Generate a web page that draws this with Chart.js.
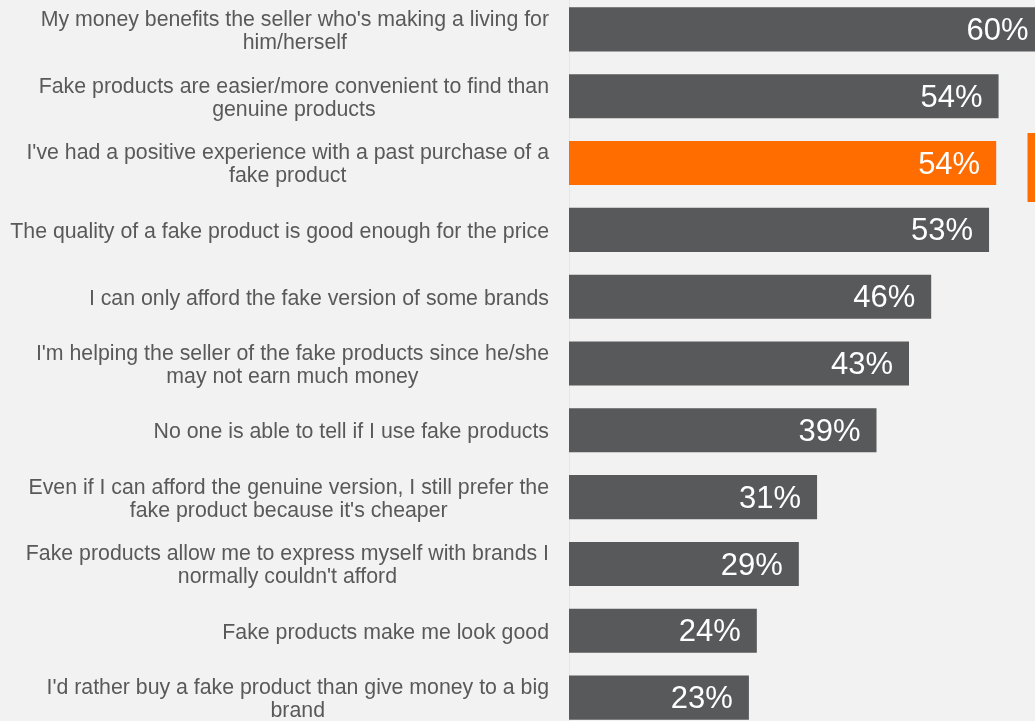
<!DOCTYPE html>
<html>
<head>
<meta charset="utf-8">
<script src="https://cdn.jsdelivr.net/npm/chart.js@4.4.1/dist/chart.umd.min.js"></script>
<style>
    html, body { margin: 0; padding: 0; background: #f2f2f2; overflow: hidden; width: 1035px; height: 721px; }
    #wrap { position: absolute; left: 0; top: -4px; width: 1100px; height: 735px; }
    #tab { position: absolute; left: 1027px; top: 133px; width: 8px; height: 69px; background: #ff6d00; border-left: 1px solid #f8b07c; box-sizing: border-box; }
</style>
</head>
<body>
<div id="wrap"><canvas id="reasonChart" width="1100" height="735"></canvas></div>
<div id="tab"></div>
<script>
const categories = [
    ["My money benefits the seller who's making a living for", "him/herself"],
    ["Fake products are easier/more convenient to find than", "genuine products"],
    ["I've had a positive experience with a past purchase of a", "fake product"],
    ["The quality of a fake product is good enough for the price"],
    ["I can only afford the fake version of some brands"],
    ["I'm helping the seller of the fake products since he/she", "may not earn much money"],
    ["No one is able to tell if I use fake products"],
    ["Even if I can afford the genuine version, I still prefer the", "fake product because it's cheaper"],
    ["Fake products allow me to express myself with brands I", "normally couldn't afford"],
    ["Fake products make me look good"],
    ["I'd rather buy a fake product than give money to a big", "brand"]
];
const shares = [60.0, 54.2, 53.9, 53.0, 45.7, 42.9, 38.8, 31.3, 29.0, 23.7, 22.7];
const highlightIndex = 2;

const barGray = '#58595b';
const barOrange = '#ff6d00';
const textGray = '#595959';

// Category labels: block right-aligned, lines centred inside the block
const categoryLabels = {
    id: 'categoryLabels',
    afterDraw(chart) {
        const ctx = chart.ctx;
        const yScale = chart.scales.y;
        const right = yScale.right - 20;
        const lineHeight = 23;
        ctx.save();
        ctx.font = '21.3px "Liberation Sans", Arial, sans-serif';
        ctx.fillStyle = textGray;
        ctx.textAlign = 'center';
        ctx.textBaseline = 'middle';
        categories.forEach((lines, i) => {
            const cy = yScale.getPixelForValue(i) + 2;
            const blockWidth = Math.max(...lines.map(l => ctx.measureText(l).width));
            const cx = right - blockWidth / 2;
            const top = cy - (lines.length - 1) * lineHeight / 2;
            lines.forEach((line, j) => ctx.fillText(line, cx, top + j * lineHeight));
        });
        ctx.restore();
    }
};

// Value labels inside the bar end
const valueLabels = {
    id: 'valueLabels',
    afterDatasetsDraw(chart) {
        const ctx = chart.ctx;
        const meta = chart.getDatasetMeta(0);
        ctx.save();
        ctx.font = '31px "Liberation Sans", Arial, sans-serif';
        ctx.fillStyle = '#ffffff';
        ctx.textAlign = 'right';
        ctx.textBaseline = 'middle';
        meta.data.forEach((bar, i) => {
            ctx.fillText(Math.round(shares[i]) + '%', bar.x - 16, bar.y + 2);
        });
        ctx.restore();
    }
};

new Chart(document.getElementById('reasonChart'), {
    type: 'bar',
    data: {
        labels: categories,
        datasets: [{
            data: shares,
            backgroundColor: shares.map((v, i) => i === highlightIndex ? barOrange : barGray),
            borderWidth: 0,
            barPercentage: 0.66,
            categoryPercentage: 1.0
        }]
    },
    options: {
        indexAxis: 'y',
        responsive: false,
        animation: false,
        devicePixelRatio: 1,
        layout: { padding: 0 },
        plugins: {
            legend: { display: false },
            tooltip: { enabled: false }
        },
        scales: {
            x: { display: false, min: 0, max: 67 },
            y: {
                grid: { display: false },
                border: { display: true, color: '#e6e6e6', width: 1 },
                ticks: { display: false },
                afterFit(scale) { scale.width = 569; }
            }
        }
    },
    plugins: [categoryLabels, valueLabels]
});
</script>
</body>
</html>
